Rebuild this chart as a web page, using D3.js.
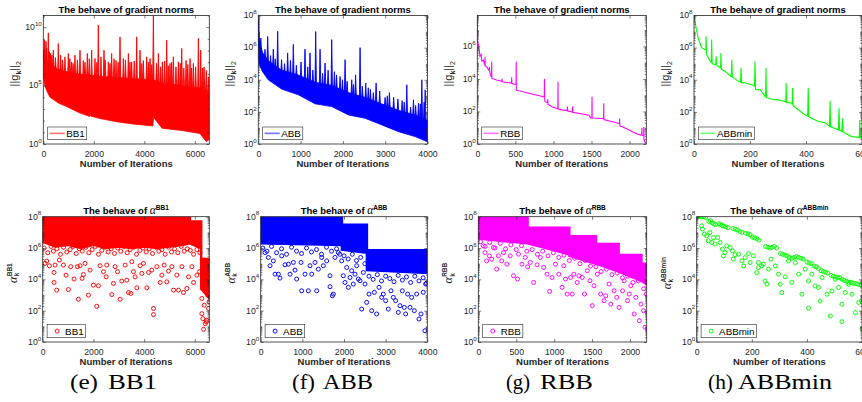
<!DOCTYPE html>
<html>
<head>
<meta charset="utf-8">
<script src="https://cdn.jsdelivr.net/npm/d3@7"></script>
<style>
  body { margin: 0; background: #fff; }
</style>
</head>
<body>
<svg id="fig" width="862" height="402" font-family='"Liberation Sans", Arial, sans-serif'></svg>
<script>
// all y values are log10 exponents

// x tick labels
const xTicksBB1 = [0, 2000, 4000, 6000];
const xTicksABB = [0, 1000, 2000, 3000, 4000];
const xTicksRBB = [0, 500, 1000, 1500, 2000];
const xTicksMin = [0, 200, 400, 600];

// gradient norms: dense band [iter, lo, hi]
const bb1GradBand = [[0, 5.8, 8.0], [60, 5.0, 7.3], [150, 4.5, 7.0], [265, 4.0, 6.8], [600, 3.5, 6.4],
  [925, 3.2, 6.2], [1400, 2.7, 6.0], [1840, 2.35, 5.9], [1850, 2.9, 5.9], [1870, 2.4, 5.9], [2200, 2.2, 5.8],
  [2900, 1.9, 5.7], [3600, 1.7, 5.6], [4340, 1.55, 5.5], [4360, 2.3, 5.5], [4700, 1.35, 5.2], [5500, 1.15, 5.0],
  [6200, 0.9, 4.8], [6450, 0.2, 4.6], [6570, 0.4, 4.5]];
// spikes [iter, base, peak]
const bb1GradSpikes = [[40, 7.0, 8.9], [106, 6.8, 8.8], [198, 6.4, 9.51], [290, 6.2, 7.75], [396, 6.0, 8.03], [594, 5.8, 8.6],
  [686, 5.8, 7.6], [858, 5.7, 7.46], [990, 5.6, 7.75], [1122, 5.6, 7.03], [1254, 5.5, 7.6], [1452, 5.5, 8.03],
  [1584, 5.5, 7.15], [1742, 5.4, 7.75], [1914, 5.4, 8.03], [2046, 5.4, 7.32], [2178, 5.3, 10.17], [2284, 5.3, 7.46],
  [2402, 5.3, 8.03], [2574, 5.3, 7.03], [2706, 5.3, 7.75], [2878, 5.3, 7.15], [3036, 5.3, 9.17], [3168, 5.3, 7.32],
  [3366, 5.2, 7.75], [3498, 5.2, 7.03], [3696, 5.2, 9.17], [3828, 5.2, 8.03], [3960, 5.2, 7.15], [4092, 5.2, 7.46],
  [4224, 5.2, 7.32], [4356, 5.2, 11.0], [4554, 5.1, 7.75], [4712, 5.0, 7.03], [4884, 5.0, 8.89], [5016, 5.0, 6.9],
  [5148, 4.9, 7.46], [5346, 4.9, 7.03], [5478, 4.9, 8.18], [5650, 4.8, 7.15], [5808, 4.8, 7.32], [5940, 4.7, 6.9],
  [6138, 4.7, 9.03], [6230, 4.7, 8.03], [6362, 4.6, 6.6], [6534, 4.5, 5.75],
  [130, 7.0, 8.2], [240, 6.8, 7.9], [340, 6.7, 7.6], [480, 6.5, 7.4], [760, 6.3, 7.2], [1050, 6.1, 7.3],
  [1180, 6.0, 6.9], [1350, 6.0, 7.2], [1650, 5.9, 7.0], [1820, 5.9, 7.3], [2120, 5.8, 7.0], [2450, 5.8, 7.2],
  [2640, 5.7, 6.9], [2800, 5.7, 7.3], [2960, 5.7, 7.0], [3250, 5.6, 7.2], [3430, 5.6, 7.0], [3600, 5.6, 7.1],
  [3900, 5.5, 6.9], [4160, 5.5, 7.0], [4290, 5.5, 6.8], [4480, 5.3, 6.9], [4640, 5.2, 6.6], [4800, 5.2, 7.1],
  [4950, 5.1, 6.7], [5080, 5.1, 7.0], [5250, 5.0, 6.6], [5420, 5.0, 6.9], [5560, 5.0, 6.5], [5720, 4.9, 6.8],
  [5870, 4.9, 6.5], [6030, 4.8, 6.6], [6300, 4.7, 6.5], [6450, 4.6, 6.3]];

const abbGradBand = [[0, 5.3, 7.8], [15, 5.0, 6.6], [100, 4.5, 5.7], [233, 4.0, 5.2], [550, 3.42, 4.6], [947, 3.06, 4.3],
  [1342, 2.5, 3.85], [1736, 2.33, 3.65], [2130, 1.81, 3.2], [2524, 1.6, 2.9], [2919, 1.19, 2.5], [3313, 0.77, 2.1],
  [3708, 0.46, 1.8], [3984, 0.15, 1.5], [4000, 0.2, 1.5]];
const abbGradSpikes = [[10, 6.0, 7.75], [158, 5.3, 5.9], [222, 5.1, 6.7], [355, 4.8, 5.9], [458, 4.6, 7.02], [550, 4.5, 5.25],
  [694, 4.4, 5.67], [828, 4.3, 6.2], [1010, 4.1, 5.1], [1104, 4.0, 5.9], [1222, 3.9, 5.67], [1357, 3.8, 7.0],
  [1460, 3.7, 5.9], [1578, 3.7, 5.04], [1650, 3.6, 4.6], [1736, 3.6, 6.5], [1850, 3.4, 4.3], [1933, 3.3, 4.2],
  [2052, 3.2, 5.25], [2209, 3.1, 4.0], [2300, 3.0, 4.3], [2406, 2.9, 6.0], [2540, 2.8, 3.8], [2650, 2.7, 3.4],
  [2785, 2.6, 3.8], [2998, 2.4, 2.9], [3100, 2.3, 3.2], [3200, 2.2, 2.9], [3400, 2.0, 2.7], [3510, 1.9, 3.69],
  [3600, 1.8, 2.3], [3668, 1.8, 2.75], [3787, 1.7, 2.54], [3866, 1.5, 4.0], [3945, 1.4, 3.375],
  [60, 5.5, 6.6], [290, 4.7, 5.5], [400, 4.6, 5.3], [620, 4.4, 5.0], [760, 4.3, 5.2], [900, 4.2, 4.9],
  [1170, 3.9, 4.8], [1290, 3.8, 4.6], [1520, 3.6, 4.4], [1800, 3.5, 4.5], [1990, 3.3, 4.0], [2100, 3.2, 3.9],
  [2250, 3.0, 3.7], [2460, 2.9, 3.6], [2600, 2.7, 3.5], [2720, 2.6, 3.2], [2870, 2.5, 3.3], [3050, 2.3, 3.0],
  [3300, 2.1, 2.8], [3450, 1.9, 2.6], [3720, 1.7, 2.4], [3830, 1.6, 2.5], [3920, 1.4, 2.6]];

// gradient norms: single lines [iter, value]
const rbbGradLine = [[0, 7.88], [5, 6.3], [20, 6.0], [35, 5.4], [50, 5.5], [60, 5.1], [80, 5.15], [99, 4.85], [101, 5.36],
  [103, 4.8], [124, 4.74], [150, 4.55], [158, 4.5], [159, 4.74], [161, 4.45], [186, 4.1], [189, 5.05], [191, 4.03],
  [255, 3.93], [323, 3.85], [325, 4.02], [327, 3.82], [450, 3.74], [452, 4.1], [454, 3.72], [509, 3.65], [511, 5.05],
  [513, 3.31], [693, 3.1], [869, 2.9], [880, 2.88], [882, 4.0], [884, 2.8], [890, 2.6], [920, 2.55], [925, 2.75],
  [928, 2.45], [985, 2.28], [1058, 2.17], [1060, 3.82], [1062, 2.15], [1116, 2.1], [1180, 2.05], [1185, 2.3],
  [1188, 2.03], [1248, 1.96], [1252, 2.3], [1255, 1.95], [1467, 1.77], [1490, 1.6], [1505, 1.6], [1507, 2.9],
  [1509, 1.6], [1643, 1.57], [1659, 1.55], [1661, 2.5], [1663, 1.5], [1862, 1.26], [1868, 1.26], [1870, 1.57],
  [1872, 1.1], [1906, 1.06], [1994, 0.86], [2082, 0.65], [2147, 0.55], [2160, 0.6], [2162, 1.0], [2164, 0.55],
  [2185, 0.5], [2187, 1.05], [2189, 0.3], [2205, 0.1], [2220, 0.0]];
const minGradLine = [[0, 7.75], [4, 7.6], [9, 7.1], [15, 6.6], [21, 6.3], [27, 6.0], [39, 5.88], [42, 5.9], [43, 6.7],
  [45, 5.56], [60, 5.1], [62, 5.1], [63, 6.5], [65, 5.0], [78, 4.95], [79, 5.46], [81, 4.9], [87, 4.83], [95, 4.75],
  [96, 5.67], [98, 4.65], [111, 4.52], [133, 4.2], [135, 5.25], [137, 4.17], [159, 3.9], [166, 3.85], [168, 4.73],
  [170, 3.82], [183, 3.8], [206, 3.69], [216, 3.6], [218, 5.15], [220, 3.4], [236, 3.38], [254, 2.96], [256, 3.3],
  [257, 4.73], [259, 2.9], [278, 2.79], [301, 2.75], [325, 2.65], [328, 2.6], [329, 3.8], [331, 2.6], [349, 2.54],
  [351, 2.5], [352, 3.5], [354, 2.4], [373, 2.12], [397, 1.81], [406, 1.75], [408, 3.5], [410, 1.7], [420, 1.6],
  [444, 1.4], [468, 1.33], [484, 1.1], [486, 2.69], [488, 1.05], [492, 1.04], [516, 0.88], [518, 2.23], [520, 0.85],
  [528, 0.8], [530, 1.6], [532, 0.75], [540, 0.67], [563, 0.46], [587, 0.42], [590, 0.4], [592, 1.5], [594, 0.4],
  [599, 0.35]];

// step sizes alpha: dense blocks [iter, lo, hi]
const bb1AlphaBand = [[0, 6.4, 8], [500, 6.1, 8], [1000, 6.2, 8], [1500, 6.0, 8], [2000, 6.2, 8], [2500, 6.0, 8],
  [3000, 6.1, 8], [3500, 6.0, 8], [4000, 6.1, 8], [4500, 6.0, 8], [5000, 6.1, 8], [5500, 6.2, 8], [5800, 6.3, 8],
  [5800, 6.3, 7.7], [6250, 6.0, 7.7], [6250, 3.4, 5.3], [6570, 2.8, 5.3]];
const abbAlphaBand = [[0, 6.3, 8], [1950, 6.2, 8], [1950, 5.9, 7.48], [2550, 5.7, 7.48], [2550, 4.6, 5.86], [4000, 4.4, 5.86]];
const rbbAlphaBand = [[0, 6.6, 8], [650, 6.3, 8], [650, 6.3, 7.3], [1200, 5.6, 7.3], [1200, 5.5, 6.75], [1550, 5.0, 6.75],
  [1550, 5.0, 6.25], [1850, 4.5, 6.25], [1850, 4.5, 5.55], [2150, 3.9, 5.55], [2150, 3.9, 5.0], [2220, 3.7, 5.0]];

// step sizes alpha: separate points [iter, value]
const bb1AlphaPts = [[60, 6.0], [200, 5.7], [330, 6.1], [420, 5.8], [560, 5.95], [700, 5.6], [820, 6.05], [950, 5.75],
  [1080, 5.9], [1200, 6.1], [1320, 5.65], [1440, 5.95], [1560, 5.8], [1700, 6.05], [1820, 5.7], [1950, 5.9],
  [2080, 6.1], [2200, 5.6], [2330, 5.85], [2450, 6.05], [2580, 5.75], [2700, 5.95], [2830, 5.65], [2960, 6.0],
  [3080, 5.8], [3200, 6.1], [3330, 5.7], [3450, 5.9], [3580, 6.05], [3700, 5.6], [3830, 5.85], [3950, 6.0],
  [4080, 5.75], [4200, 5.95], [4330, 5.65], [4460, 6.05], [4580, 5.8], [4700, 5.9], [4830, 5.6], [4960, 6.05],
  [5080, 5.75], [5200, 5.95], [5330, 5.7], [5460, 6.1], [5580, 5.8], [5700, 5.95], [5820, 5.85], [5950, 5.6],
  [6080, 5.9], [6200, 5.7],
  [92, 5.02], [158, 5.17], [263, 4.87], [487, 4.91], [447, 4.44], [658, 5.23], [447, 3.8], [553, 3.31], [816, 4.91],
  [921, 4.27], [1013, 3.35], [1105, 4.81], [1237, 4.02], [1369, 4.81], [1408, 2.73], [1474, 4.87], [1553, 4.06],
  [1605, 4.31], [1671, 5.02], [1803, 2.99], [1869, 4.59], [2000, 3.63], [2132, 2.28], [2198, 3.59], [2263, 4.87],
  [2395, 4.49], [2500, 4.16], [2527, 4.91], [2724, 3.03], [2790, 3.74], [2856, 4.81], [2948, 4.49], [3053, 2.73],
  [3119, 3.89], [3250, 4.91], [3316, 3.95], [3382, 3.16], [3474, 3.1], [3514, 5.13], [3580, 4.49], [3645, 4.16],
  [3711, 3.46], [3843, 4.87], [3909, 4.38], [3974, 5.02], [4106, 3.46], [4172, 4.44], [4303, 4.59], [4369, 2.14],
  [4369, 1.75], [4501, 4.81], [4632, 3.8], [4698, 4.27], [4790, 4.91], [4895, 3.84], [4961, 4.53], [5093, 4.81],
  [5159, 3.31], [5290, 4.27], [5356, 3.31], [5488, 4.81], [5553, 3.16], [5685, 3.42], [5751, 4.16], [5882, 4.81],
  [5948, 3.8], [6080, 4.27], [6185, 4.49], [6277, 2.78], [6369, 2.35], [6277, 1.81], [6316, 1.49], [6343, 0.81],
  [6409, 1.17], [6448, 1.28], [6474, 1.39], [6540, 2.14], [6560, 2.56], [6500, 2.99], [6409, 3.42]];
const abbAlphaPts = [[50, 6.0], [150, 5.8], [260, 6.1], [380, 5.7], [500, 5.95], [620, 5.6], [740, 6.05], [860, 5.8],
  [980, 5.65], [1100, 6.0], [1220, 5.75], [1340, 5.9], [1460, 5.6], [1580, 6.05], [1700, 5.8], [1820, 5.95],
  [1900, 5.6], [2000, 5.5], [2100, 5.3], [2200, 5.6], [2300, 5.2], [2400, 5.4], [2500, 5.0], [2600, 4.2],
  [2700, 4.0], [2800, 4.3], [2900, 3.9], [3000, 4.2], [3100, 4.05], [3200, 3.85], [3300, 4.25], [3400, 3.95],
  [3500, 4.15], [3600, 3.8], [3700, 4.2], [3800, 3.9], [3900, 4.1], [3980, 3.75],
  [104, 5.71], [184, 5.4], [224, 4.87], [304, 5.18], [344, 4.33], [424, 4.33], [464, 4.08], [504, 5.5], [584, 4.93],
  [664, 4.97], [704, 4.33], [784, 5.08], [824, 4.59], [864, 4.02], [968, 5.08], [984, 3.27], [1064, 4.33],
  [1144, 3.27], [1184, 4.87], [1224, 4.33], [1304, 5.08], [1344, 3.27], [1384, 4.65], [1464, 5.4], [1504, 4.87],
  [1584, 5.18], [1664, 4.23], [1664, 3.53], [1720, 2.95], [1744, 3.06], [1784, 5.4], [1864, 5.71], [1944, 5.18],
  [1984, 4.23], [2024, 3.8], [2064, 4.76], [2104, 3.49], [2144, 4.12], [2184, 4.55], [2224, 3.7], [2264, 4.33],
  [2304, 4.87], [2344, 4.02], [2384, 3.91], [2424, 2.1], [2464, 4.44], [2504, 3.7], [2544, 2.53], [2600, 3.06],
  [2664, 2.0], [2728, 3.17], [2784, 1.79], [2840, 3.49], [2904, 2.85], [2944, 3.06], [3000, 2.64], [3064, 2.1],
  [3128, 3.27], [3184, 2.85], [3240, 2.64], [3304, 1.89], [3344, 2.32], [3400, 3.27], [3448, 2.21], [3480, 1.79],
  [3528, 3.06], [3584, 2.21], [3624, 2.85], [3688, 2.0], [3744, 3.06], [3800, 1.47], [3848, 1.79], [3904, 3.17],
  [3944, 0.72], [3960, 3.7]];
const rbbAlphaPts = [[30, 6.4], [90, 6.1], [150, 6.35], [220, 6.0], [290, 6.3], [360, 5.95], [430, 6.2], [500, 5.9],
  [570, 6.15], [640, 5.8], [710, 5.9], [780, 5.6], [850, 5.8], [920, 5.5], [990, 5.7], [1060, 5.4], [1130, 5.55],
  [1200, 5.2], [1270, 5.35], [1340, 5.0], [1410, 5.2], [1480, 4.85], [1550, 4.8], [1620, 4.5], [1690, 4.65],
  [1760, 4.3], [1830, 4.4], [1900, 4.1], [1970, 4.2], [2040, 3.8], [2110, 3.9], [2180, 3.4],
  [66, 6.14], [88, 5.71], [110, 5.18], [146, 5.5], [177, 5.29], [199, 6.03], [243, 4.65], [265, 5.5], [309, 5.18],
  [332, 5.71], [376, 4.97], [420, 5.5], [464, 4.23], [517, 4.02], [530, 5.61], [575, 4.97], [619, 5.4], [650, 4.8],
  [685, 5.08], [729, 3.8], [774, 4.93], [818, 5.4], [862, 4.76], [906, 4.33], [941, 3.23], [972, 4.12], [1017, 4.97],
  [1061, 4.33], [1105, 3.49], [1127, 4.87], [1149, 4.02], [1171, 3.06], [1216, 4.12], [1238, 3.06], [1260, 4.33],
  [1304, 3.8], [1326, 4.23], [1370, 4.12], [1401, 3.06], [1437, 4.55], [1472, 3.91], [1503, 2.32], [1525, 3.59],
  [1569, 4.33], [1613, 3.06], [1658, 2.64], [1680, 2.95], [1724, 3.7], [1746, 2.42], [1790, 3.27], [1825, 2.85],
  [1856, 2.21], [1901, 3.27], [1923, 3.91], [1967, 2.64], [1989, 3.06], [2011, 3.59], [2055, 1.79], [2077, 2.85],
  [2122, 1.36], [2144, 2.42], [2179, 2.0], [2197, 0.94], [2214, 3.06]];
const minAlphaPts = [[2, 8.0], [8, 8.0], [14, 7.98], [20, 8.0], [26, 8.0], [32, 7.95], [44, 7.7], [50, 7.75], [56, 7.6],
  [62, 7.55], [68, 7.5], [80, 7.55], [86, 7.5], [92, 7.45], [98, 7.4], [106, 7.35], [114, 7.3], [132, 7.25],
  [140, 7.2], [148, 7.15], [156, 7.05], [164, 7.0], [178, 6.95], [186, 6.9], [194, 6.85], [202, 6.7], [210, 6.65],
  [218, 6.6], [226, 6.5], [250, 6.1], [258, 6.05], [266, 6.0], [274, 6.05], [282, 6.1], [290, 6.0], [304, 5.65],
  [312, 5.6], [320, 5.55], [328, 5.5], [336, 5.4], [346, 5.35], [354, 5.4], [362, 5.45], [370, 5.4], [378, 5.35],
  [386, 5.3], [400, 5.1], [408, 5.05], [416, 5.0], [426, 4.85], [434, 4.8], [442, 4.7], [452, 4.55], [460, 4.5],
  [468, 4.45], [476, 4.4], [488, 4.25], [496, 4.2], [504, 4.15], [512, 4.12], [520, 4.1], [528, 4.0], [536, 3.92],
  [544, 3.88], [552, 3.82], [560, 3.8], [568, 3.76], [576, 3.73], [584, 3.7], [592, 3.66], [598, 3.62],
  [18, 7.42], [21, 7.21], [28, 6.89], [36, 6.78], [42, 6.46], [48, 6.99], [61, 6.67], [55, 6.35], [67, 6.25],
  [76, 6.67], [85, 6.35], [93, 5.93], [103, 5.71], [97, 5.5], [109, 6.14], [121, 6.03], [130, 5.82], [133, 5.29],
  [139, 5.57], [152, 5.61], [164, 5.18], [170, 4.86], [176, 5.39], [188, 5.65], [194, 5.07], [206, 5.5], [218, 4.43],
  [224, 5.07], [224, 4.75], [236, 4.86], [242, 4.97], [248, 3.9], [255, 3.69], [261, 4.65], [270, 5.29], [285, 4.86],
  [297, 4.33], [303, 3.69], [309, 3.16], [321, 4.16], [333, 5.18], [345, 3.8], [358, 5.07], [370, 4.33], [382, 3.05],
  [394, 4.65], [406, 2.15], [406, 3.9], [418, 4.33], [430, 3.58], [442, 3.48], [448, 2.62], [455, 4.12], [473, 3.05],
  [485, 1.66], [491, 3.26], [503, 4.01], [515, 3.48], [527, 1.3], [527, 2.41], [539, 3.16], [551, 3.69], [564, 3.05],
  [576, 1.88], [588, 2.52], [600, 0.85], [598, 2.62]];

const captions = [["(e)", "BB1"], ["(f)", "ABB"], ["(g)", "RBB"], ["(h)", "ABBmin"]];

const svg = d3.select("#fig");
const ink = "#262626";
const serif = '"Liberation Serif", "Times New Roman", serif';

const topRow = { y0: 15.5, y1: 144 }, botRow = { y0: 216.7, y1: 342 };
const panels = [
  { x0: 43.3, x1: 209.3, ...topRow, xMax: 6570, eMax: 11, xTicks: xTicksBB1, eTicks: [0, 5, 10], color: "#ff0000", name: "BB1", band: bb1GradBand, spikes: bb1GradSpikes },
  { x0: 258.3, x1: 427.5, ...topRow, xMax: 4000, eMax: 8, xTicks: xTicksABB, eTicks: [0, 2, 4, 6, 8], color: "#0000ff", name: "ABB", band: abbGradBand, spikes: abbGradSpikes },
  { x0: 477.3, x1: 646.3, ...topRow, xMax: 2220, eMax: 7.9, xTicks: xTicksRBB, eTicks: [0, 2, 4, 6], color: "#ff00ff", name: "RBB", line: rbbGradLine },
  { x0: 694, x1: 862, ...topRow, xMax: 600, eMax: 8, xTicks: xTicksMin, eTicks: [0, 2, 4, 6, 8], color: "#00ff00", name: "ABBmin", line: minGradLine },
  { x0: 42.7, x1: 209.3, ...botRow, xMax: 6570, eMax: 8, xTicks: xTicksBB1, eTicks: [0, 2, 4, 6, 8], color: "#ff0000", name: "BB1", band: bb1AlphaBand, pts: bb1AlphaPts, alpha: true },
  { x0: 260.7, x1: 427.3, ...botRow, xMax: 4000, eMax: 8, xTicks: xTicksABB, eTicks: [0, 2, 4, 6, 8], color: "#0000ff", name: "ABB", band: abbAlphaBand, pts: abbAlphaPts, alpha: true },
  { x0: 478.3, x1: 646.7, ...botRow, xMax: 2220, eMax: 8, xTicks: xTicksRBB, eTicks: [0, 2, 4, 6, 8], color: "#ff00ff", name: "RBB", band: rbbAlphaBand, pts: rbbAlphaPts, alpha: true },
  { x0: 696.7, x1: 862, ...botRow, xMax: 600, eMax: 8, xTicks: xTicksMin, eTicks: [0, 2, 4, 6, 8], color: "#00ff00", name: "ABBmin", pts: minAlphaPts, alpha: true }
];

panels.forEach((p, i) => {
  const x = d3.scaleLinear().domain([0, p.xMax]).range([p.x0, p.x1]);
  const y = d3.scaleLog().domain([1, 10 ** p.eMax]).range([p.y1, p.y0]);
  const py = e => y(10 ** e);
  const g = svg.append("g");

  svg.append("clipPath").attr("id", "clip" + i)
    .append("rect").attr("x", p.x0).attr("y", p.y0).attr("width", p.x1 - p.x0).attr("height", p.y1 - p.y0);
  const plot = g.append("g").attr("clip-path", `url(#clip${i})`);

  if (p.band) {
    const area = d3.area().x(d => x(d[0])).y0(d => py(d[1])).y1(d => py(d[2]));
    plot.append("path").attr("d", area(p.band)).attr("fill", p.color)
      .attr("stroke", p.color).attr("stroke-width", p.alpha ? 2.5 : 0.8);
  }
  if (p.spikes) {
    const seg = d3.line().x(d => x(d[0])).y(d => py(d[1]));
    const hw = p.xMax * 0.004;
    plot.selectAll(".spike").data(p.spikes).join("path")
      .attr("d", d => seg([[d[0] - hw, d[1]], [d[0], d[2]], [d[0] + hw, d[1]]]))
      .attr("fill", p.color).attr("stroke", p.color).attr("stroke-width", 0.9);
  }
  if (p.line) {
    const ln = d3.line().x(d => x(d[0])).y(d => py(d[1]));
    plot.append("path").attr("d", ln(p.line)).attr("fill", "none")
      .attr("stroke", p.color).attr("stroke-width", 1.1);
  }
  if (p.pts) {
    plot.selectAll(".pt").data(p.pts).join("circle")
      .attr("cx", d => x(d[0])).attr("cy", d => py(d[1])).attr("r", 2)
      .attr("fill", "none").attr("stroke", p.color).attr("stroke-width", 0.95);
  }

  // axes, MATLAB style: inward ticks on all four sides
  const majors = p.eTicks.map(e => 10 ** e);
  const minors = y.ticks().filter(v => !majors.some(m => Math.abs(m - v) / m < 1e-9));
  const axes = [
    g.append("g").attr("transform", `translate(0,${p.y1})`)
      .call(d3.axisBottom(x).tickValues(p.xTicks).tickSize(-3).tickSizeOuter(0).tickPadding(6.8).tickFormat(d3.format("d"))),
    g.append("g").attr("transform", `translate(0,${p.y0})`)
      .call(d3.axisTop(x).tickValues(p.xTicks).tickSize(-3).tickSizeOuter(0).tickFormat("")),
    g.append("g").attr("transform", `translate(${p.x0},0)`)
      .call(d3.axisLeft(y).tickValues(majors).tickSize(-3).tickSizeOuter(0).tickFormat("")),
    g.append("g").attr("transform", `translate(${p.x1},0)`)
      .call(d3.axisRight(y).tickValues(majors).tickSize(-3).tickSizeOuter(0).tickFormat("")),
    g.append("g").attr("transform", `translate(${p.x0},0)`)
      .call(d3.axisLeft(y).tickValues(minors).tickSize(-1.6).tickSizeOuter(0).tickFormat("")),
    g.append("g").attr("transform", `translate(${p.x1},0)`)
      .call(d3.axisRight(y).tickValues(minors).tickSize(-1.6).tickSizeOuter(0).tickFormat(""))
  ];
  axes.forEach(a => {
    a.attr("color", ink).attr("font-family", null).attr("font-size", 8.7);
    a.select(".domain").remove();
    a.selectAll(".tick line").attr("stroke-width", 0.6);
  });
  axes[0].selectAll(".tick text").attr("fill", ink);

  // y tick labels 10^e
  p.eTicks.forEach(e => {
    const t = g.append("text").attr("x", p.x0 - 1.5).attr("y", py(e)).attr("dy", "0.33em")
      .attr("text-anchor", "end").attr("font-size", 8.7).attr("fill", ink);
    t.append("tspan").text("10");
    t.append("tspan").attr("font-size", 6.2).attr("dy", -4.2).text(e);
  });

  g.append("rect").attr("x", p.x0).attr("y", p.y0).attr("width", p.x1 - p.x0).attr("height", p.y1 - p.y0)
    .attr("fill", "none").attr("stroke", ink).attr("stroke-width", 0.8);

  const xc = (p.x0 + p.x1) / 2;
  // title
  const title = g.append("text").attr("x", xc).attr("y", p.y0 - 2.7).attr("text-anchor", "middle")
    .attr("font-size", 9.5).attr("font-weight", "bold").attr("fill", "#000");
  if (p.alpha) {
    title.append("tspan").text("The behave of ");
    title.append("tspan").attr("font-family", serif).attr("font-style", "italic").attr("font-weight", "normal")
      .attr("font-size", 11.5).text("α");
    title.append("tspan").attr("font-size", 6.5).attr("dy", -4.5).text(p.name);
  } else {
    title.text("The behave of gradient norms");
  }

  // x label
  g.append("text").attr("x", xc).attr("y", p.y1 + 22.8).attr("text-anchor", "middle")
    .attr("font-size", 9.5).attr("font-weight", "bold").attr("fill", ink).text("Number of Iterations");

  // y label
  const yc = (p.y0 + p.y1) / 2 - 6;
  if (p.alpha) {
    const gl = g.append("g").attr("transform", `translate(${p.x0 - 26},${yc}) rotate(-90)`);
    const a = gl.append("text").attr("font-family", serif).attr("font-style", "italic").attr("font-size", 12)
      .attr("fill", ink).text("α");
    const sup = gl.append("text").attr("font-size", 6.5).attr("font-weight", "bold").attr("y", -5)
      .attr("fill", ink).text(p.name);
    const sub = gl.append("text").attr("font-size", 6.5).attr("font-weight", "bold").attr("y", 2.6)
      .attr("fill", ink).text("k");
    const aw = a.node().getComputedTextLength(), sw = sup.node().getComputedTextLength();
    const s = -(aw + sw) / 2;
    a.attr("x", s); sup.attr("x", s + aw + 0.4); sub.attr("x", s + aw + 0.4);
  } else {
    const yl = g.append("text").attr("transform", `translate(${p.x0 - 25},${yc}) rotate(-90)`)
      .attr("text-anchor", "middle").attr("font-size", 11).attr("fill", ink);
    yl.append("tspan").text("||g");
    yl.append("tspan").attr("font-size", 7).attr("font-weight", "bold").attr("dy", 2.8).text("k");
    yl.append("tspan").attr("dy", -2.8).text("||");
    yl.append("tspan").attr("font-size", 7).attr("dy", 2.8).text("2");
  }

  // legend
  const lg = g.append("g");
  const bx = p.x0 + 4.4;
  const box = lg.append("rect").attr("fill", "#fff").attr("stroke", ink).attr("stroke-width", 0.6);
  const txtX = p.alpha ? bx + 18 : bx + 18.5;
  const ly0 = p.alpha ? p.y1 - 17.5 : p.y1 - 17, ly1 = p.y1 - 4.3;
  const lt = lg.append("text").attr("x", txtX).attr("y", (ly0 + ly1) / 2).attr("dy", "0.35em")
    .attr("font-size", 9.8).attr("fill", "#000").text(p.name);
  const tw = lt.node().getComputedTextLength();
  box.attr("x", bx).attr("y", ly0).attr("width", txtX - bx + tw + 2).attr("height", ly1 - ly0);
  if (p.alpha) {
    lg.append("circle").attr("cx", bx + 10).attr("cy", (ly0 + ly1) / 2).attr("r", 2)
      .attr("fill", "none").attr("stroke", p.color).attr("stroke-width", 0.95);
  } else {
    lg.append("line").attr("x1", bx + 2).attr("x2", bx + 17).attr("y1", (ly0 + ly1) / 2).attr("y2", (ly0 + ly1) / 2)
      .attr("stroke", p.color).attr("stroke-opacity", 0.55).attr("stroke-width", 1.6);
  }
});

// sub-figure captions
const capPos = [[70, 28, 108, 49], [292, 23, 323, 50], [506, 24, 540, 53], [708, 25, 738, 94]];
captions.forEach((c, i) => {
  const [ax, aw, bx, bw] = capPos[i];
  svg.append("text").attr("x", ax).attr("y", 388.5).attr("font-family", serif).attr("font-size", 21)
    .attr("textLength", aw).attr("lengthAdjust", "spacingAndGlyphs").attr("fill", "#000").text(c[0]);
  svg.append("text").attr("x", bx).attr("y", 388.5).attr("font-family", serif).attr("font-size", 21)
    .attr("textLength", bw).attr("lengthAdjust", "spacingAndGlyphs").attr("fill", "#000").text(c[1]);
});
</script>
</body>
</html>
